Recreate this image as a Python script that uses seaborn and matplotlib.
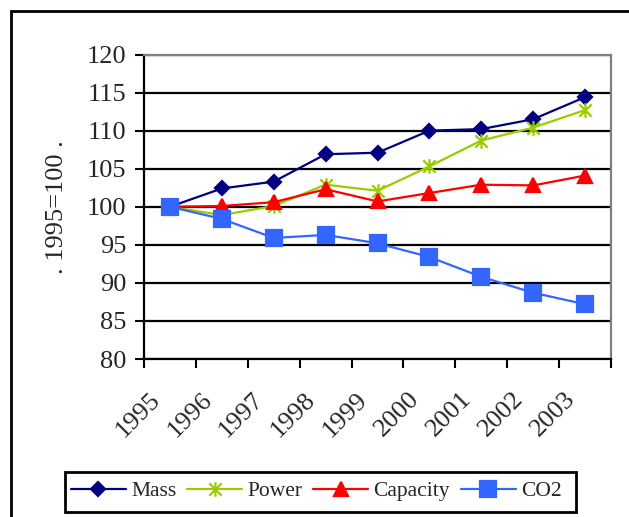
import numpy as np
import pandas as pd
import seaborn as sns
import matplotlib
matplotlib.use("Agg")
import matplotlib.pyplot as plt
from matplotlib.path import Path
from matplotlib.patches import Rectangle
from matplotlib.lines import Line2D
from matplotlib.transforms import ScaledTranslation

# Index values (1995 = 100)
years = ["1995", "1996", "1997", "1998", "1999", "2000", "2001", "2002", "2003"]
mass = [100, 102.4, 103.3, 106.9, 107.1, 110.0, 110.2, 111.5, 114.4]
power = [100, 98.9, 100.1, 102.9, 102.1, 105.3, 108.7, 110.4, 112.7]
capacity = [100, 100.1, 100.6, 102.3, 100.7, 101.8, 102.9, 102.8, 104.1]
co2 = [100, 98.4, 95.9, 96.3, 95.2, 93.4, 90.8, 88.7, 87.2]
series_names = ["Mass", "Power", "Capacity", "CO2"]
y_ticks = [80, 85, 90, 95, 100, 105, 110, 115, 120]

sns.set_style("white")
plt.rcParams["font.family"] = ["Liberation Serif", "DejaVu Serif"]

# asterisk marker: vertical bar plus a cross
star = Path([(0, -1), (0, 1), (-0.85, -0.85), (0.85, 0.85), (-0.85, 0.85), (0.85, -0.85)],
            [Path.MOVETO, Path.LINETO, Path.MOVETO, Path.LINETO, Path.MOVETO, Path.LINETO])

styles = {
    "Mass": dict(color="#000080", marker="D", ms=7.4, mfc="#000080"),
    "Power": dict(color="#99CC00", marker=star, ms=10.5, mfc="none"),
    "Capacity": dict(color="#FF0000", marker="^", ms=10.5, mfc="#FF0000"),
    "CO2": dict(color="#3366FF", marker="s", ms=11, mfc="#3366FF"),
}

df = pd.DataFrame({"Mass": mass, "Power": power, "Capacity": capacity, "CO2": co2})
df["pos"] = np.arange(len(years))

W, H = 629, 517
fig = plt.figure(figsize=(W / 100, H / 100), dpi=100)
ax = fig.add_axes([144 / W, (H - 359) / H, (611 - 144) / W, (359 - 54.5) / H])

handles = []
for name in series_names:
    st = styles[name]
    sns.lineplot(x="pos", y=name, data=df, ax=ax, color=st["color"], linewidth=1.6,
                 marker=st["marker"], markersize=st["ms"], mfc=st["mfc"],
                 mec=st["color"], mew=1.6, legend=False)
    handles.append(Line2D([], [], color=st["color"], linewidth=1.6, marker=st["marker"],
                          markersize=st["ms"], mfc=st["mfc"], mec=st["color"], mew=1.6,
                          label=name))

ax.set_xlim(-0.5, len(years) - 0.5)
ax.set_ylim(80, 120)
ax.set_xlabel("")
ax.set_ylabel("")

# horizontal gridlines
ax.set_yticks(y_ticks)
ax.set_yticklabels([str(v) for v in y_ticks])
ax.set_axisbelow(True)
ax.yaxis.grid(True, color="black", linewidth=1.6)
ax.xaxis.grid(False)
ax.tick_params(axis="y", which="major", direction="out", length=6.5, width=1.5,
               labelsize=19, pad=6, left=True, color="black")

# category labels at centres, tick marks on boundaries
ax.set_xticks(np.arange(len(years)))
ax.set_xticklabels(years, rotation=45, ha="right", va="top")
ax.set_xticks(np.arange(len(years) + 1) - 0.5, minor=True)
ax.tick_params(axis="x", which="major", length=0, labelsize=19, pad=21)
ax.tick_params(axis="x", which="minor", direction="out", length=6.5, width=1.5,
               bottom=True, color="black")
shift = ScaledTranslation(-4 / 72, 0, fig.dpi_scale_trans)
for lab in ax.get_xticklabels():
    lab.set_transform(lab.get_transform() + shift)

for side in ["left", "bottom"]:
    ax.spines[side].set_color("black")
    ax.spines[side].set_linewidth(1.6)
for side in ["top", "right"]:
    ax.spines[side].set_color("#808080")
    ax.spines[side].set_linewidth(1.6)
    ax.spines[side].set_visible(True)

fig.text(57 / W, 1 - 207 / H, ". 1995=100 .", rotation=90, ha="center", va="center",
         fontsize=19)

leg = ax.legend(handles=handles, loc="center left", ncol=4, frameon=False,
                bbox_to_anchor=(71 / W, 1 - 491 / H), bbox_transform=fig.transFigure,
                fontsize=15.5, handlelength=2.55, handletextpad=0.25, columnspacing=0.5,
                numpoints=1, borderpad=0, borderaxespad=0)

fig.add_artist(Rectangle((65 / W, 1 - 512 / H), (576 - 65) / W, 40 / H,
                         transform=fig.transFigure, fill=False, edgecolor="black",
                         linewidth=2.0))
fig.add_artist(Rectangle((11 / W, -0.2), 2.0, 1.2 - 11 / H,
                         transform=fig.transFigure, fill=False, edgecolor="black",
                         linewidth=2.0))

fig.savefig("out.png", dpi=100)
